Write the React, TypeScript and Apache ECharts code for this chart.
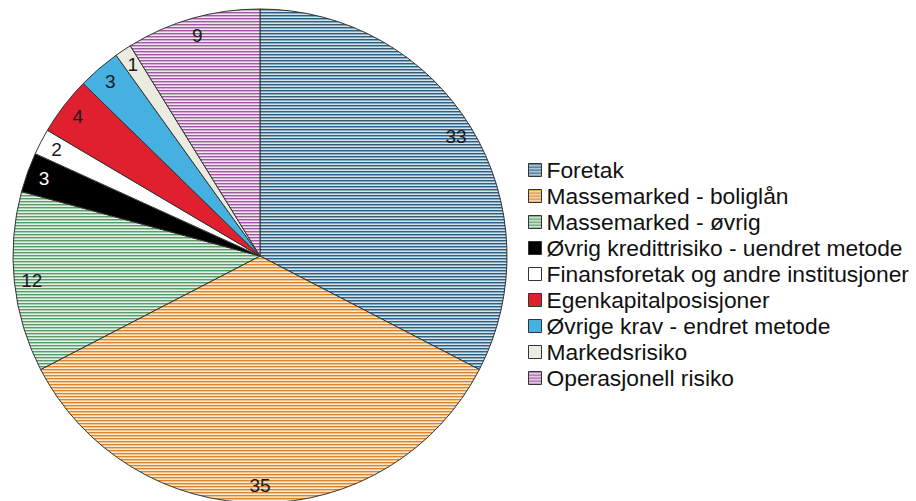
import React, { useEffect, useRef } from "react";
import * as echarts from "echarts";

const categories = [
  "Foretak",
  "Massemarked - boliglån",
  "Massemarked - øvrig",
  "Øvrig kredittrisiko - uendret metode",
  "Finansforetak og andre institusjoner",
  "Egenkapitalposisjoner",
  "Øvrige krav - endret metode",
  "Markedsrisiko",
  "Operasjonell risiko",
];
const values = [32.6, 34.8, 11.8, 2.6, 1.7, 3.8, 2.8, 1.1, 8.8];

// stripe colours (null = solid fill)
const stripeColors: (string[] | null)[] = [
  ["#2f5f80", "#86a8bf", "#d3e2eb"],
  ["#d6862c", "#f0c28c", "#fbe6cf"],
  ["#5b9a69", "#a8cfb0", "#e4f1e6"],
  null,
  null,
  null,
  null,
  null,
  ["#9c5aa0", "#d2abd4", "#f3e5f3"],
];
const solidColors = ["", "", "", "#000000", "#ffffff", "#e0202e", "#46b1e1", "#ecebe0", ""];

function makeStripe(cols: string[]) {
  const c = document.createElement("canvas");
  c.width = 4;
  c.height = cols.length;
  const ctx = c.getContext("2d")!;
  cols.forEach((col, i) => {
    ctx.fillStyle = col;
    ctx.fillRect(0, i, 4, 1);
  });
  return { image: c, repeat: "repeat" } as any;
}

export default function App() {
  const ref = useRef<HTMLDivElement>(null);
  useEffect(() => {
    const chart = echarts.init(ref.current!, null, { renderer: "svg" });
    const fills = categories.map((_, i) =>
      stripeColors[i] ? makeStripe(stripeColors[i] as string[]) : solidColors[i]
    );
    chart.setOption({
      animation: false,
      legend: {
        orient: "vertical",
        left: 528,
        top: 157,
        padding: 0,
        itemWidth: 13,
        itemHeight: 13,
        itemGap: 0,
        icon: "rect",
        data: categories,
        selectedMode: false,
        itemStyle: { borderColor: "#333", borderWidth: 1 },
        textStyle: {
          fontFamily: "Liberation Sans, Arial, sans-serif",
          fontSize: 22.8,
          color: "#111",
          lineHeight: 26,
        },
      },
      series: [
        {
          type: "pie",
          center: [260, 256],
          radius: 247,
          startAngle: 90,
          clockwise: true,
          silent: true,
          label: { show: false },
          labelLine: { show: false },
          itemStyle: { borderColor: "#333", borderWidth: 1 },
          data: categories.map((name, i) => ({
            name,
            value: values[i],
            itemStyle: { color: fills[i] },
          })),
        },
        {
          type: "pie",
          center: [260, 256],
          radius: [206, 247],
          startAngle: 90,
          clockwise: true,
          silent: true,
          itemStyle: { color: "rgba(0,0,0,0)", borderWidth: 0 },
          label: {
            show: true,
            position: "inside",
            fontFamily: "Liberation Sans, Arial, sans-serif",
            fontSize: 19,
            color: "#1a1a1a",
            formatter: (p: any) => String(Math.round(p.value)),
          },
          labelLine: { show: false },
          data: categories.map((name, i) => ({
            name: name + " ",
            value: values[i],
            label: i === 3 ? { color: "#ffffff" } : undefined,
          })),
        },
      ],
    });
    return () => chart.dispose();
  }, []);
  return (
    <div
      ref={ref}
      style={{ position: "fixed", left: 0, top: 0, width: 916, height: 501, background: "#fff" }}
    />
  );
}
